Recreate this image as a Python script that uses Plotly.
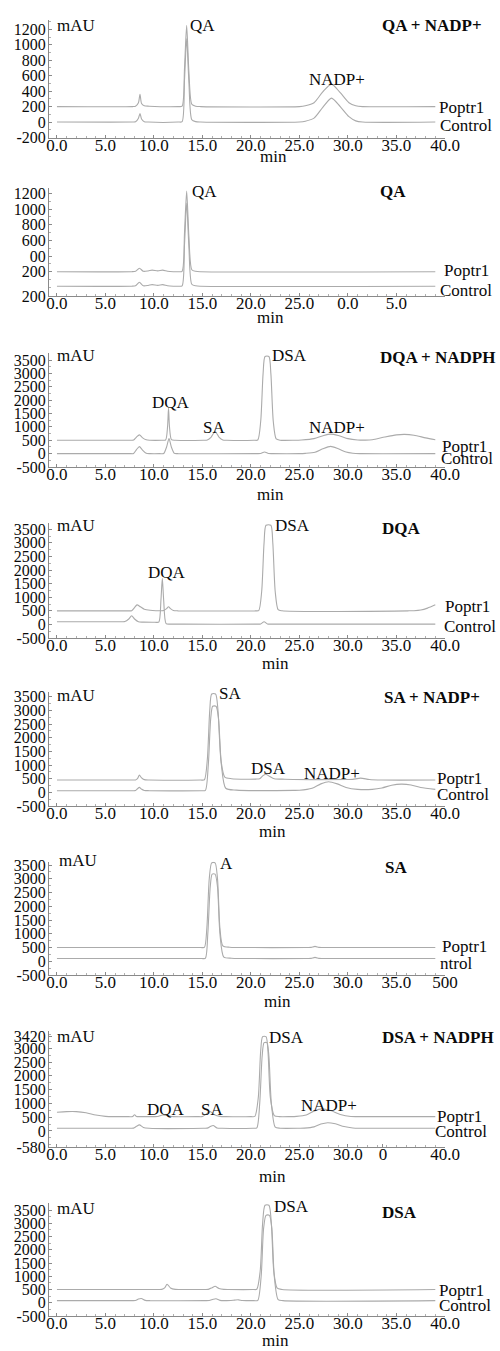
import plotly.graph_objects as go

# ---------------------------------------------------------------------------
# Chromatogram readings (retention time in min, absorbance in mAU)
# Each panel: Poptr1 reaction trace and the Control trace.
# ---------------------------------------------------------------------------

# Panel 1: QA + NADP+
p1_poptr1_t = [0, 7.8, 8.1, 8.4, 8.56, 8.72, 9.0, 9.5, 12.5, 12.9, 13.15, 13.37, 13.6, 13.9,
               14.3, 14.8, 25.0, 25.6, 26.5, 27.4, 28.3, 29.2, 30.1, 30.8, 31.5, 39.0]
p1_poptr1_v = [200, 200, 205, 250, 360, 240, 210, 205, 200, 205, 700, 1250, 650, 230,
               205, 200, 200, 210, 250, 390, 490, 380, 250, 210, 200, 200]
p1_control_t = [0, 7.8, 8.1, 8.4, 8.56, 8.72, 9.0, 9.4, 12.5, 12.9, 13.15, 13.37, 13.6, 13.9,
                14.3, 14.8, 25.0, 25.6, 26.5, 27.4, 28.3, 29.2, 30.1, 30.8, 31.5, 39.0]
p1_control_v = [0, 0, 3, 50, 110, 40, 5, 0, 0, 5, 550, 1080, 520, 30,
                5, 0, 0, 10, 50, 190, 310, 200, 70, 15, 0, 0]

# Panel 2: QA
p2_poptr1_t = [0, 7.7, 8.1, 8.5, 8.9, 9.4, 9.8, 10.4, 10.9, 11.4, 12.0, 12.5, 12.9, 13.15,
               13.37, 13.6, 13.9, 14.3, 14.8, 39.0]
p2_poptr1_v = [200, 200, 205, 245, 205, 210, 220, 210, 220, 205, 200, 200, 205, 700,
               1230, 650, 225, 205, 200, 200]
p2_control_t = [0, 7.7, 8.1, 8.5, 8.9, 9.4, 9.8, 10.4, 10.9, 11.4, 12.0, 12.5, 12.9, 13.15,
                13.37, 13.6, 13.9, 14.3, 14.8, 39.0]
p2_control_v = [15, 15, 20, 65, 20, 25, 35, 25, 35, 20, 15, 15, 20, 550,
                1075, 520, 40, 20, 15, 15]

# Panel 3: DQA + NADPH
p3_poptr1_t = [0, 7.5, 7.9, 8.2, 8.5, 8.8, 9.2, 9.6, 10.8, 11.2, 11.4, 11.5, 11.6, 11.8,
               12.2, 15.1, 15.5, 15.9, 16.3, 16.7, 17.1, 17.5, 20.3, 20.7, 21.0, 21.25,
               21.45, 21.85, 22.05, 22.3, 22.6, 23.0, 24.5, 25.2, 26.5, 27.5, 28.2, 29.0,
               30.0, 31.0, 31.8, 32.5, 33.8, 35.0, 35.8, 36.8, 38.0, 39.0]
p3_poptr1_v = [500, 500, 505, 620, 700, 600, 515, 500, 500, 510, 1000, 1700, 1000, 520,
               500, 500, 510, 620, 830, 620, 510, 500, 500, 510, 1200, 3000,
               3630, 3630, 3000, 1200, 550, 500, 500, 510, 560, 680, 730, 680,
               560, 510, 505, 520, 620, 700, 720, 690, 590, 520]
p3_control_t = [0, 7.5, 7.9, 8.2, 8.5, 8.8, 9.2, 9.6, 10.6, 11.0, 11.3, 11.55, 11.8, 12.1,
                12.5, 20.6, 21.0, 21.4, 21.8, 22.2, 25.0, 25.6, 26.6, 27.4, 28.2, 29.0,
                29.8, 30.5, 31.2, 39.0]
p3_control_v = [0, 0, 5, 150, 260, 140, 10, 0, 0, 5, 250, 560, 240, 10,
                0, 0, 5, 60, 5, 0, 0, 10, 50, 180, 270, 180,
                60, 15, 0, 0]

# Panel 4: DQA
p4_poptr1_t = [0, 7.3, 7.7, 8.0, 8.25, 8.6, 9.0, 9.6, 10.2, 10.7, 11.0, 11.3, 11.5, 11.7,
               12.0, 12.5, 20.4, 20.8, 21.1, 21.35, 21.55, 22.05, 22.25, 22.5, 22.8, 23.2,
               36.2, 36.8, 37.5, 38.2, 39.0]
p4_poptr1_v = [500, 500, 505, 620, 720, 650, 560, 520, 505, 505, 510, 580, 650, 580,
               510, 500, 500, 510, 1200, 3000, 3650, 3650, 3000, 1200, 540, 500,
               500, 505, 530, 600, 720]
p4_control_t = [0, 6.6, 7.0, 7.4, 7.7, 8.0, 8.4, 8.9, 10.1, 10.5, 10.72, 10.86, 11.0, 11.25,
                11.7, 13.0, 20.6, 21.0, 21.35, 21.7, 22.1, 39.0]
p4_control_v = [100, 100, 105, 200, 320, 200, 95, 85, 80, 85, 900, 1700, 900, 30,
                12, 10, 10, 15, 100, 15, 10, 10]

# Panel 5: SA + NADP+
p5_poptr1_t = [0, 7.7, 8.1, 8.3, 8.5, 8.7, 9.0, 9.5, 14.8, 15.2, 15.5, 15.75, 15.95, 16.35,
               16.6, 16.9, 17.3, 18.0, 19.5, 20.5, 20.9, 21.2, 21.5, 21.9, 22.4, 23.5,
               30.0, 30.5, 31.3, 32.2, 33.5, 39.0]
p5_poptr1_v = [450, 450, 455, 500, 630, 540, 465, 450, 450, 460, 1200, 3000, 3600, 3600,
               3000, 1200, 560, 500, 480, 485, 500, 600, 660, 590, 500, 480,
               470, 475, 520, 470, 450, 450]
p5_control_t = [0, 7.7, 8.1, 8.3, 8.5, 8.7, 9.0, 9.5, 14.9, 15.3, 15.6, 15.85, 16.05, 16.4,
                16.65, 16.95, 17.4, 18.5, 24.4, 25.0, 26.3, 27.2, 28.0, 28.9, 29.8, 31.0,
                32.5, 33.5, 34.5, 35.5, 36.5, 37.5, 39.0]
p5_control_v = [60, 60, 65, 130, 180, 120, 70, 60, 60, 70, 1000, 2700, 3150, 3150,
                2700, 1000, 150, 80, 70, 75, 150, 310, 390, 310, 180, 110,
                110, 160, 260, 300, 270, 180, 110]

# Panel 6: SA
p6_poptr1_t = [0, 14.8, 15.2, 15.45, 15.7, 15.95, 16.3, 16.55, 16.8, 17.1, 17.8, 18.5,
               25.8, 26.2, 26.6, 27.0, 27.4, 39.0]
p6_poptr1_v = [500, 500, 505, 1200, 3000, 3580, 3580, 3000, 1200, 560, 510, 500,
               500, 505, 540, 505, 500, 500]
p6_control_t = [0, 14.9, 15.3, 15.55, 15.8, 16.0, 16.3, 16.55, 16.8, 17.2, 18.0, 18.7,
                25.8, 26.2, 26.6, 27.0, 27.4, 39.0]
p6_control_v = [100, 100, 105, 1000, 2700, 3170, 3170, 2700, 1000, 150, 110, 100,
                100, 105, 140, 105, 100, 100]

# Panel 7: DSA + NADPH
p7_poptr1_t = [0, 1.0, 2.0, 3.0, 4.0, 5.0, 6.0, 7.4, 7.8, 8.0, 8.2, 8.6, 10.0, 10.4, 10.9,
               11.4, 12.0, 14.5, 15.0, 15.5, 15.8, 16.2, 16.8, 17.4, 20.0, 20.4, 20.75,
               21.0, 21.2, 21.55, 21.75, 22.0, 22.4, 22.9, 24.0, 24.7, 25.7, 26.5, 27.3,
               28.2, 29.2, 30.3, 31.0, 39.0]
p7_poptr1_v = [680, 700, 700, 660, 580, 530, 520, 520, 522, 590, 525, 520, 520, 525, 580,
               560, 520, 520, 525, 640, 700, 600, 530, 520, 520, 530, 1200,
               2900, 3420, 3420, 2900, 1200, 560, 520, 520, 530, 580, 720, 800,
               740, 600, 525, 520, 520]
p7_control_t = [0, 7.5, 7.9, 8.2, 8.5, 8.9, 9.5, 15.1, 15.5, 15.8, 16.1, 16.5, 17.0, 20.2,
                20.6, 20.9, 21.15, 21.35, 21.65, 21.85, 22.1, 22.5, 23.0, 25.0, 25.5, 26.5,
                27.2, 27.9, 28.7, 29.6, 30.5, 31.2, 39.0]
p7_control_v = [100, 100, 105, 170, 220, 130, 100, 100, 105, 160, 200, 110, 100, 100,
                110, 1000, 2700, 3200, 3200, 2700, 1000, 140, 100, 100, 105, 150,
                250, 300, 260, 160, 110, 100, 100]

# Panel 8: DSA
p8_poptr1_t = [0, 10.4, 10.8, 11.1, 11.35, 11.7, 12.2, 12.7, 15.2, 15.6, 16.0, 16.3, 16.7,
               17.2, 17.7, 20.2, 20.6, 20.95, 21.2, 21.45, 21.85, 22.1, 22.35, 22.7, 23.2,
               39.0]
p8_poptr1_v = [500, 500, 505, 560, 700, 560, 505, 500, 500, 505, 570, 620, 540,
               505, 500, 500, 510, 1200, 3000, 3680, 3680, 3000, 1200, 550, 500,
               500]
p8_control_t = [0, 7.7, 8.1, 8.4, 8.7, 9.1, 9.6, 15.3, 15.7, 16.1, 16.4, 16.8, 17.5, 18.3,
                18.7, 19.1, 19.6, 20.3, 20.7, 21.05, 21.3, 21.55, 21.9, 22.15, 22.4, 22.8,
                23.3, 39.0]
p8_control_v = [80, 80, 85, 140, 160, 90, 80, 80, 85, 130, 150, 90, 82, 100,
                110, 85, 80, 80, 90, 1000, 2800, 3300, 3300, 2800, 1000, 120,
                80, 80]

# Panel headings
panel_titles = ["QA + NADP+", "QA", "DQA + NADPH", "DQA", "SA + NADP+", "SA",
                "DSA + NADPH", "DSA"]

# Time-axis tick labels
x_ticks_std = [0, 5, 10, 15, 20, 25, 30, 35, 40]
x_text_std = ["0.0", "5.0", "10.0", "15.0", "20.0", "25.0", "30.0", "35.0", "40.0"]
x_ticks_p2 = [0, 5, 10, 15, 20, 25, 30, 35]
x_text_p2 = ["0.0", "5.0", "10.0", "15.0", "20.0", "25.0", "0.0", "5.0"]
x_text_p6 = ["0.0", "5.0", "10.0", "15.0", "20.0", "25.0", "30.0", "35.0", "500"]
x_ticks_p7 = [0, 5, 10, 15, 20, 25, 30, 33.6, 40]
x_text_p7 = ["0.0", "5.0", "10.0", "15.0", "20.0", "25.0", "30.0", "0", "40.0"]

# Absorbance-axis tick labels
y_ticks_p1 = [-200, 0, 200, 400, 600, 800, 1000, 1200]
y_text_p1 = ["-200", "0", "200", "400", "600", "800", "1000", "1200"]
y_ticks_p2 = [-110, 200, 400, 600, 800, 1000, 1200]
y_text_p2 = ["200", "200", "00", "600", "800", "1000", "1200"]
y_ticks_std = [-500, 0, 500, 1000, 1500, 2000, 2500, 3000, 3500]
y_text_std = ["-500", "0", "500", "1000", "1500", "2000", "2500", "3000", "3500"]
y_ticks_p7 = [-580, 0, 500, 1000, 1500, 2000, 2500, 3000, 3420]
y_text_p7 = ["-580", "0", "500", "1000", "1500", "2000", "2500", "3000", "3420"]

# Peak names per panel
peak_labels = [
    ["QA", "NADP+"],
    ["QA"],
    ["DQA", "SA", "DSA", "NADP+"],
    ["DQA", "DSA"],
    ["SA", "DSA", "NADP+"],
    ["A"],
    ["DQA", "SA", "DSA", "NADP+"],
    ["DSA"],
]
trace_names = [
    ["Poptr1", "Control"], ["Poptr1", "Control"], ["Poptr1", "Control"],
    ["Poptr1", "Control"], ["Poptr1", "Control"], ["Poptr1", "ntrol"],
    ["Poptr1", "Control"], ["Poptr1", "Control"],
]

# ---------------------------------------------------------------------------
# Layout geometry (pixels in a 500 x 1351 page)
# ---------------------------------------------------------------------------
W, H = 500, 1351
X_LEFT, X_RIGHT = 49, 445
X_RANGE = [-0.82, 40.0]

panels = [
    dict(top=20, bottom=137.5, yr=[-200, 1320], yt=y_ticks_p1, ytt=y_text_p1, ydt=100,
         xt=x_ticks_std, xtt=x_text_std, mau=(55, 25), min=(273, 156),
         names=((437, 107.5), (438, 125.5)),
         peaks=[(188, 25, "left"), (337, 79, "center")], title=(380, 25)),
    dict(top=188, bottom=296, yr=[-110, 1268], yt=y_ticks_p2, ytt=y_text_p2, ydt=100,
         xt=x_ticks_p2, xtt=x_text_p2, mau=None, min=(270, 317),
         names=((441.5, 270), (438, 290)),
         peaks=[(190, 192, "left")], title=(378, 192)),
    dict(top=353, bottom=467, yr=[-500, 3762], yt=y_ticks_std, ytt=y_text_std, ydt=250,
         xt=x_ticks_std, xtt=x_text_std, mau=(55, 355), min=(270, 494),
         names=((440, 446.5), (439, 458.5)),
         peaks=[(171, 402, "center"), (214, 427, "center"), (270, 355, "left"),
                (337, 427, "center")], title=(378, 357)),
    dict(top=523, bottom=638, yr=[-500, 3732], yt=y_ticks_std, ytt=y_text_std, ydt=250,
         xt=x_ticks_std, xtt=x_text_std, mau=(55, 525), min=(275, 663),
         names=((443, 606.7), (441.7, 626.7)),
         peaks=[(167, 572, "center"), (273, 525, "left")], title=(380, 529)),
    dict(top=692, bottom=806, yr=[-500, 3672], yt=y_ticks_std, ytt=y_text_std, ydt=250,
         xt=x_ticks_std, xtt=x_text_std, mau=(55, 695), min=(272, 831.7),
         names=((435, 778.3), (435, 794)),
         peaks=[(217, 693, "left"), (268, 768, "center"), (332, 773, "center")],
         title=(382, 697)),
    dict(top=861.7, bottom=975, yr=[-500, 3620], yt=y_ticks_std, ytt=y_text_std, ydt=250,
         xt=x_ticks_std, xtt=x_text_p6, mau=(57, 860), min=(277, 1001.7),
         names=((440, 946.7), (438, 963.3)),
         peaks=[(218, 863, "left")], title=(383, 868)),
    dict(top=1030.7, bottom=1147, yr=[-580, 3634], yt=y_ticks_p7, ytt=y_text_p7, ydt=250,
         xt=x_ticks_p7, xtt=x_text_p7, mau=(55, 1036), min=(272, 1176),
         names=((435, 1116.7), (433, 1131.7)),
         peaks=[(166, 1109, "center"), (212, 1109, "center"), (267, 1037, "left"),
                (329, 1105, "center")], title=(380, 1037)),
    dict(top=1203, bottom=1316, yr=[-500, 3764], yt=y_ticks_std, ytt=y_text_std, ydt=250,
         xt=x_ticks_std, xtt=x_text_std, mau=(55, 1208), min=(275, 1340),
         names=((436.7, 1290), (436.7, 1305)),
         peaks=[(272, 1206, "left")], title=(380, 1212)),
]

series = [
    ((p1_poptr1_t, p1_poptr1_v), (p1_control_t, p1_control_v)),
    ((p2_poptr1_t, p2_poptr1_v), (p2_control_t, p2_control_v)),
    ((p3_poptr1_t, p3_poptr1_v), (p3_control_t, p3_control_v)),
    ((p4_poptr1_t, p4_poptr1_v), (p4_control_t, p4_control_v)),
    ((p5_poptr1_t, p5_poptr1_v), (p5_control_t, p5_control_v)),
    ((p6_poptr1_t, p6_poptr1_v), (p6_control_t, p6_control_v)),
    ((p7_poptr1_t, p7_poptr1_v), (p7_control_t, p7_control_v)),
    ((p8_poptr1_t, p8_poptr1_v), (p8_control_t, p8_control_v)),
]

FONT = "Liberation Serif, Times New Roman, serif"
TEXT_COLOR = "#0a0a0a"
LINE_COLOR = "#ababab"
AXIS_COLOR = "#8a8a8a"


def px(x, y):
    return x / W, 1 - y / H


fig = go.Figure()
annotations = []


def ann(text, x, y, anchor="left", bold=False):
    ax, ay = px(x, y)
    annotations.append(dict(
        text=f"<b>{text}</b>" if bold else text, x=ax, y=ay,
        xref="paper", yref="paper", xanchor=anchor, yanchor="middle",
        showarrow=False, font=dict(family=FONT, size=17, color=TEXT_COLOR),
    ))


for i, (pan, traces) in enumerate(zip(panels, series)):
    n = i + 1
    suffix = "" if n == 1 else str(n)
    xa, ya = "x" + suffix, "y" + suffix
    for t, v in traces:
        fig.add_trace(go.Scatter(
            x=t, y=v, xaxis=xa, yaxis=ya, mode="lines",
            line=dict(color=LINE_COLOR, width=1.1, shape="spline", smoothing=0.7),
            hoverinfo="skip", showlegend=False,
        ))

    fig.layout["xaxis" + suffix] = dict(
        domain=[X_LEFT / W, X_RIGHT / W], anchor=ya, range=X_RANGE,
        tickmode="array", tickvals=pan["xt"], ticktext=pan["xtt"],
        showline=True, linecolor=AXIS_COLOR, linewidth=1,
        ticks="inside", ticklen=3, tickcolor=AXIS_COLOR, ticklabelstandoff=-8,
        minor=dict(ticks="inside", ticklen=2, dtick=1, tick0=0, tickcolor="#b0b0b0"),
        showgrid=False, zeroline=False, fixedrange=True,
        tickfont=dict(family=FONT, size=17, color=TEXT_COLOR),
    )
    fig.layout["yaxis" + suffix] = dict(
        domain=[1 - pan["bottom"] / H, 1 - pan["top"] / H], anchor=xa,
        range=pan["yr"], tickmode="array", tickvals=pan["yt"], ticktext=pan["ytt"],
        showline=True, linecolor=AXIS_COLOR, linewidth=1,
        ticks="inside", ticklen=3, tickcolor=AXIS_COLOR, ticklabelstandoff=-1,
        minor=dict(ticks="inside", ticklen=2, dtick=pan["ydt"], tickcolor="#b0b0b0"),
        showgrid=False, zeroline=False, fixedrange=True,
        tickfont=dict(family=FONT, size=16, color=TEXT_COLOR),
    )

    if pan["mau"]:
        ann("mAU", *pan["mau"])
    ann(panel_titles[i], *pan["title"], bold=True)
    ann("min", *pan["min"], anchor="center")
    for name, (nx, ny) in zip(trace_names[i], pan["names"]):
        ann(name, nx, ny)
    for label, (lx, ly, anc) in zip(peak_labels[i], pan["peaks"]):
        ann(label, lx, ly, anchor=anc)

fig.update_layout(
    width=W, height=H, margin=dict(l=0, r=0, t=0, b=0, autoexpand=False),
    paper_bgcolor="white", plot_bgcolor="white",
    annotations=annotations, showlegend=False,
)

fig.write_html("out.html", config={"displayModeBar": False})
